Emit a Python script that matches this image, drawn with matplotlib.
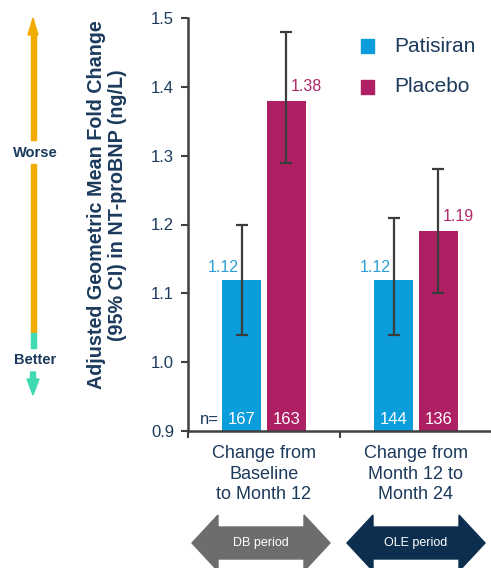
import matplotlib
matplotlib.use("Agg")
import matplotlib.pyplot as plt
from matplotlib.patches import Polygon
import numpy as np

plt.rcParams['font.family'] = ['Liberation Sans', 'DejaVu Sans']

# data
groups = ["Change from\nBaseline\nto Month 12", "Change from\nMonth 12 to\nMonth 24"]
patisiran = [1.12, 1.12]
patisiran_lo = [1.04, 1.04]
patisiran_hi = [1.20, 1.21]
placebo = [1.38, 1.19]
placebo_lo = [1.29, 1.10]
placebo_hi = [1.48, 1.28]
n_patisiran = [167, 144]
n_placebo = [163, 136]
periods = ["DB period", "OLE period"]

c_pat = "#0a9cdb"
c_pla = "#ae1f63"
c_pat_txt = "#2a9fd8"
c_pla_txt = "#b0286a"
navy = "#1c3a5c"
axis_c = "#404040"

W, H = 491, 568
fig = plt.figure(figsize=(W / 100, H / 100), dpi=100)


def fx(px):
    return px / W


def fy(py):
    return 1 - py / H


ax = fig.add_axes([fx(188), fy(431), 304 / W, 413 / H])

x = np.arange(len(groups))
bw = 0.257
off = 0.148

ax.bar(x - off, patisiran, bw, color=c_pat, zorder=2)
ax.bar(x + off, placebo, bw, color=c_pla, zorder=2)

ekw = dict(fmt="none", ecolor="#3c3c3c", elinewidth=1.6, capsize=4.3, capthick=1.6, zorder=3)
ax.errorbar(x - off, patisiran,
            yerr=[np.subtract(patisiran, patisiran_lo), np.subtract(patisiran_hi, patisiran)], **ekw)
ax.errorbar(x + off, placebo,
            yerr=[np.subtract(placebo, placebo_lo), np.subtract(placebo_hi, placebo)], **ekw)

# value labels next to the error bars
for i in range(len(groups)):
    ax.annotate(f"{patisiran[i]:.2f}", (x[i] - off, patisiran[i]), xytext=(-2, 3),
                textcoords="offset points", ha="right", va="bottom", color=c_pat_txt, fontsize=11.5)
    ax.annotate(f"{placebo[i]:.2f}", (x[i] + off, placebo[i]), xytext=(3, 5),
                textcoords="offset points", ha="left", va="bottom", color=c_pla_txt, fontsize=11.5)
    ax.text(x[i] - off, 0.916, str(n_patisiran[i]), ha="center", va="center", color="white", fontsize=12, zorder=4)
    ax.text(x[i] + off, 0.916, str(n_placebo[i]), ha="center", va="center", color="white", fontsize=12, zorder=4)
ax.text(x[0] - off - bw / 2 - 0.02, 0.916, "n=", ha="right", va="center", color=navy, fontsize=12)

ax.set_ylim(0.9, 1.5)
ax.set_xlim(-0.5, 1.5)
ax.set_yticks(np.arange(0.9, 1.51, 0.1))
ax.set_yticklabels([f"{v:.1f}" for v in np.arange(0.9, 1.51, 0.1)])
ax.set_xticks([-0.5, 0.5, 1.5])
ax.set_xticklabels([])
ax.set_xticks(x, minor=True)
ax.set_xticklabels(groups, minor=True)
ax.tick_params(axis="x", which="minor", length=0, pad=10, labelsize=13, labelcolor=navy)
ax.tick_params(axis="x", which="major", length=5, width=1.5, color=axis_c)
ax.tick_params(axis="y", length=5, width=1.5, color=axis_c, labelsize=12, labelcolor=navy, pad=5)
for lab in ax.get_xticklabels(minor=True):
    lab.set_linespacing(1.28)
for s in ["top", "right"]:
    ax.spines[s].set_visible(False)
for s in ["left", "bottom"]:
    ax.spines[s].set_color(axis_c)
    ax.spines[s].set_linewidth(1.8)

# legend
for yy, lab, col in [(46, "Patisiran", c_pat), (87, "Placebo", c_pla)]:
    fig.patches.append(plt.Rectangle((fx(361), fy(yy + 6.5)), 13 / W, 13 / H,
                                     transform=fig.transFigure, color=col))
    fig.text(fx(394), fy(yy), lab, ha="left", va="center", color=navy, fontsize=15)

# y axis title
fig.text(fx(107), fy(205), "Adjusted Geometric Mean Fold Change\n(95% CI) in NT-proBNP (ng/L)",
         rotation=90, ha="center", va="center", fontsize=14.2, fontweight="bold",
         color=navy, linespacing=1.1)

# worse / better arrow
orange = "#f2ab00"
teal = "#3fd9b2"
xc = 33
fig.patches.append(Polygon([(fx(xc - 2.5), fy(35)), (fx(xc + 2.5), fy(35)), (fx(xc + 2.5), fy(140)),
                            (fx(xc - 2.5), fy(140))], closed=True, transform=fig.transFigure, color=orange))
fig.patches.append(Polygon([(fx(xc - 5), fy(35)), (fx(xc + 5), fy(35)), (fx(xc), fy(18))],
                           closed=True, transform=fig.transFigure, color=orange))
fig.patches.append(Polygon([(fx(xc - 2.5), fy(164)), (fx(xc + 2.5), fy(164)), (fx(xc + 2.5), fy(333)),
                            (fx(xc - 2.5), fy(333))], closed=True, transform=fig.transFigure, color=orange))
fig.patches.append(Polygon([(fx(xc - 2.5), fy(333)), (fx(xc + 2.5), fy(333)), (fx(xc + 2.5), fy(348)),
                            (fx(xc - 2.5), fy(348))], closed=True, transform=fig.transFigure, color=teal))
fig.patches.append(Polygon([(fx(xc - 2.5), fy(372)), (fx(xc + 2.5), fy(372)), (fx(xc + 2.5), fy(379)),
                            (fx(xc + 6), fy(379)), (fx(xc), fy(395)), (fx(xc - 6), fy(379)),
                            (fx(xc - 2.5), fy(379))], closed=True, transform=fig.transFigure, color=teal))
fig.text(fx(xc + 2), fy(153), "Worse", ha="center", va="center", fontsize=10.5, fontweight="bold", color=navy)
fig.text(fx(xc + 2), fy(360), "Better", ha="center", va="center", fontsize=10.5, fontweight="bold", color=navy)


# study period double arrows
def double_arrow(x0, x1, yc, color, label):
    hh, sh, hl = 28, 16, 26
    pts = [(x0, yc), (x0 + hl, yc - hh), (x0 + hl, yc - sh), (x1 - hl, yc - sh), (x1 - hl, yc - hh),
           (x1, yc), (x1 - hl, yc + hh), (x1 - hl, yc + sh), (x0 + hl, yc + sh), (x0 + hl, yc + hh)]
    fig.patches.append(Polygon([(fx(a), fy(b)) for a, b in pts], closed=True,
                               transform=fig.transFigure, color=color))
    fig.text(fx((x0 + x1) / 2), fy(yc), label, ha="center", va="center", color="white", fontsize=9)


double_arrow(192, 330, 543, "#6b6e6d", periods[0])
double_arrow(347, 485, 543, "#0d2f4f", periods[1])

fig.savefig("out.png", dpi=100)
